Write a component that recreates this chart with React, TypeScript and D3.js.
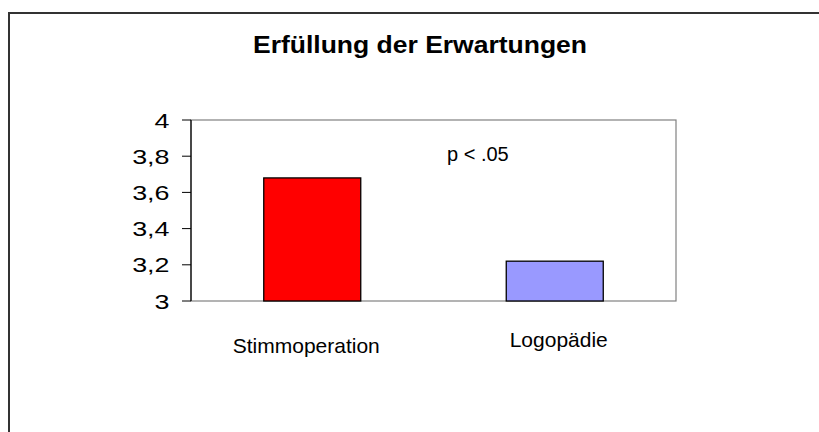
import React from "react";
import * as d3 from "d3";

const categories = ["Stimmoperation", "Logopädie"];
const values = [3.68, 3.22];
const colors = ["#FF0000", "#9999FF"];
const yTicks = [3, 3.2, 3.4, 3.6, 3.8, 4];
const title = "Erfüllung der Erwartungen";
const annotation = "p < .05";

const W = 819;
const H = 432;
const plot = { left: 191, right: 676, top: 120, bottom: 301 };

export default function App() {
  const x = d3
    .scaleBand<string>()
    .domain(categories)
    .range([plot.left, plot.right])
    .paddingInner(0.6)
    .paddingOuter(0.3);
  const y = d3.scaleLinear().domain([3, 4]).range([plot.bottom, plot.top]);
  const fmt = (v: number) => d3.format(".1~f")(v).replace(".", ",");
  const font = "'Liberation Sans', Arial, sans-serif";
  const labelOffsets = [-6, 4];
  const labelBaselines = [353, 347];

  return (
    <svg
      width={W}
      height={H}
      style={{ position: "absolute", left: 0, top: 0, background: "#fff" }}
      fontFamily={font}
    >
      <rect x={0} y={0} width={W} height={H} fill="#fff" />
      {/* outer frame */}
      <rect x={9} y={13} width={W + 20} height={H + 20} fill="none" stroke="#333" strokeWidth={2} />
      {/* title */}
      <text
        x={420}
        y={53}
        textAnchor="middle"
        fontSize={24}
        fontWeight="bold"
        fill="#000"
        textLength={334}
        lengthAdjust="spacingAndGlyphs"
      >
        {title}
      </text>
      {/* plot area border */}
      <rect
        x={plot.left}
        y={plot.top}
        width={plot.right - plot.left}
        height={plot.bottom - plot.top}
        fill="#fff"
        stroke="#808080"
        strokeWidth={1.2}
      />
      {/* bars */}
      {categories.map((c, i) => (
        <rect
          key={c}
          x={x(c)!}
          y={y(values[i])}
          width={x.bandwidth()}
          height={y(3) - y(values[i])}
          fill={colors[i]}
          stroke="#000"
          strokeWidth={1.3}
        />
      ))}
      {/* y axis */}
      <line x1={plot.left} x2={plot.left} y1={plot.top} y2={plot.bottom} stroke="#000" strokeWidth={1.2} />
      {yTicks.map((t) => (
        <g key={t}>
          <line x1={plot.left - 9} x2={plot.left} y1={y(t)} y2={y(t)} stroke="#000" strokeWidth={1} />
          <text
            transform={`translate(169.5, ${y(t) + 7.6}) scale(1.28, 1)`}
            textAnchor="end"
            fontSize={21}
            fill="#000"
          >
            {fmt(t)}
          </text>
        </g>
      ))}
      {/* category labels */}
      {categories.map((c, i) => (
        <text
          key={c}
          x={x(c)! + x.bandwidth() / 2 + labelOffsets[i]}
          y={labelBaselines[i]}
          textAnchor="middle"
          fontSize={21}
          fill="#000"
        >
          {c}
        </text>
      ))}
      {/* annotation */}
      <text x={447} y={160.5} fontSize={20} fill="#000">
        {annotation}
      </text>
    </svg>
  );
}
